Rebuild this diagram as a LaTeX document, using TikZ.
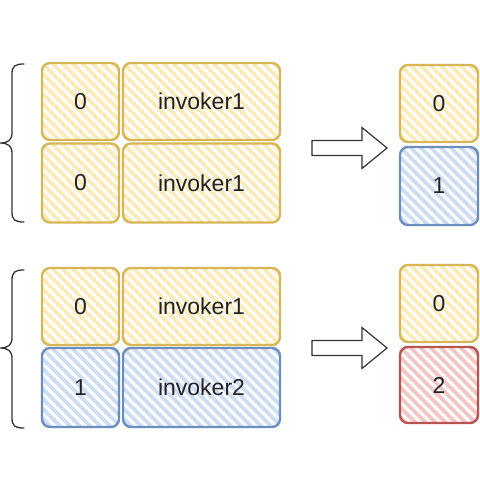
\documentclass[tikz,border=0pt]{standalone}
\usepackage{fontspec}
\setmainfont{Liberation Sans}
\definecolor{yfill}{HTML}{FCEBB8}
\definecolor{ydraw}{HTML}{D6B656}
\definecolor{bfill}{HTML}{CCDDF6}
\definecolor{bdraw}{HTML}{6C8EBF}
\definecolor{rfill}{HTML}{F5C6C4}
\definecolor{rdraw}{HTML}{B85450}
\definecolor{txt}{HTML}{222222}
\tikzset{
  cell/.style={rounded corners=8pt, line width=2.4pt, minimum height=#1, inner sep=0pt,
    font=\fontsize{23}{23}\selectfont, text=txt, fill=white},
  hatch/.style={path picture={
    \foreach \i in {-110,-100,...,180}{
      \draw[line width=3.8pt,#1] ([xshift=\i pt]path picture bounding box.north west) -- ++(110pt,-110pt);
    }}},
  ycell/.style={cell=#1, draw=ydraw, hatch=yfill},
  bcell/.style={cell=#1, draw=bdraw, hatch=bfill},
  rcell/.style={cell=#1, draw=rdraw, hatch=rfill},
  brace/.style={line width=1.3pt, draw=black!80, line cap=round},
  bigarrow/.style={line width=1.2pt, draw=black!80, fill=white, line join=miter},
}
\begin{document}
\begin{tikzpicture}[x=1pt,y=-1pt]
\useasboundingbox (0,0) rectangle (480,480);
% top group
\node[ycell=77pt, minimum width=77pt] (a0) at (80.5,101.5) {0};
\node[ycell=77pt, minimum width=157pt] (a1) at (201.5,101.5) {invoker1};
\node[ycell=79pt, minimum width=77pt] (b0) at (80.5,183) {0};
\node[ycell=79pt, minimum width=157pt] (b1) at (201.5,183) {invoker1};
\node[ycell=77pt, minimum width=78pt] (r0) at (439,103.5) {0};
\node[bcell=78pt, minimum width=78pt] (r1) at (439,186) {1};
% bottom group
\node[ycell=77pt, minimum width=77pt] (c0) at (80.5,306.5) {0};
\node[ycell=77pt, minimum width=157pt] (c1) at (201.5,306.5) {invoker1};
\node[bcell=79pt, minimum width=77pt] (d0) at (80.5,387.5) {1};
\node[bcell=79pt, minimum width=157pt] (d1) at (201.5,387.5) {invoker2};
\node[ycell=77pt, minimum width=78pt] (s0) at (439,303.5) {0};
\node[rcell=76pt, minimum width=78pt] (s1) at (439,385) {2};
% braces
\draw[brace] (24,64) .. controls (15,64) and (12,66) .. (12,74) -- (12,133)
  .. controls (12,140) and (8,143) .. (0,143)
  .. controls (8,143) and (12,146) .. (12,153) -- (12,212)
  .. controls (12,220) and (15,222) .. (24,222);
\draw[brace] (24,270) .. controls (15,270) and (12,272) .. (12,280) -- (12,338)
  .. controls (12,345) and (8,348) .. (0,348)
  .. controls (8,348) and (12,351) .. (12,358) -- (12,418)
  .. controls (12,426) and (15,428) .. (24,428);
% arrows
\draw[bigarrow] (312,140.5) -- (362,140.5) -- (362,127.5) -- (387,148) -- (362,168.5) -- (362,155.5) -- (312,155.5) -- cycle;
\draw[bigarrow] (312,340.5) -- (362,340.5) -- (362,327.5) -- (387,348) -- (362,368.5) -- (362,355.5) -- (312,355.5) -- cycle;
\end{tikzpicture}
\end{document}
